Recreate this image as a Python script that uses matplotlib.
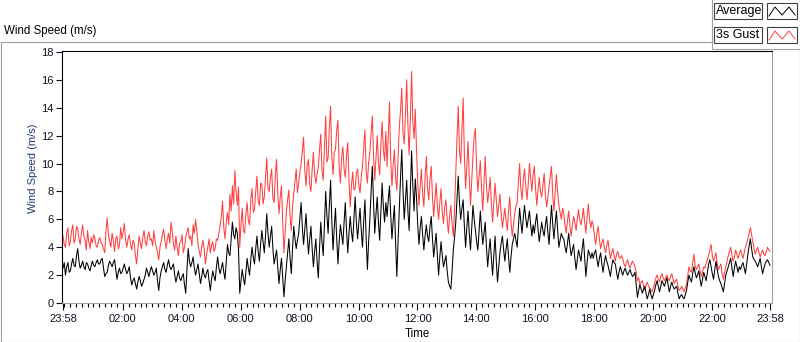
import numpy as np
import matplotlib.pyplot as plt
from matplotlib.lines import Line2D
from matplotlib.patches import Rectangle

plt.rcParams['font.family'] = ['Liberation Sans', 'DejaVu Sans']
plt.rcParams['font.size'] = 8

# 2.5-minute readings, 23:58 -> 23:58 next day (one row per hour)
gust = [
    4.8, 4.2, 4.0, 5.0, 5.4, 4.1, 4.4, 5.2, 5.6, 4.3, 4.6, 5.5, 5.3, 4.6, 4.2, 5.0, 5.6, 4.8, 4.5, 3.8, 5.2, 4.4, 3.9, 4.7,
    4.3, 4.9, 4.6, 4.1, 4.0, 4.5, 4.7, 4.3, 4.2, 3.9, 3.6, 5.2, 6.1, 4.9, 4.4, 4.0, 5.0, 4.5, 3.7, 4.6, 4.8, 3.9, 4.1, 5.4,
    4.6, 5.1, 5.7, 4.5, 4.0, 4.6, 4.9, 4.2, 3.8, 4.5, 4.3, 3.4, 2.8, 3.9, 4.8, 4.3, 3.9, 4.7, 5.2, 4.4, 4.1, 4.8, 5.1, 4.5,
    4.6, 4.1, 5.2, 4.4, 4.0, 3.6, 3.1, 4.0, 4.4, 4.9, 5.3, 4.5, 3.9, 4.6, 5.0, 4.3, 5.8, 5.1, 4.2, 3.8, 4.8, 4.0, 3.4, 4.3,
    4.4, 4.9, 3.6, 4.0, 4.7, 5.1, 5.4, 4.6, 4.8, 4.1, 5.6, 5.0, 6.0, 5.2, 4.2, 3.7, 3.3, 4.0, 4.5, 3.9, 2.8, 3.5, 4.0, 4.6,
    3.6, 4.1, 4.4, 3.7, 3.9, 4.6, 4.5, 5.0, 5.6, 6.2, 7.3, 5.4, 4.6, 5.8, 6.5, 5.6, 7.8, 6.6, 8.4, 7.1, 9.5, 8.0, 7.0, 8.3,
    4.0, 5.6, 6.8, 5.2, 5.0, 6.4, 7.2, 5.9, 5.6, 7.4, 8.2, 6.5, 6.7, 8.0, 9.1, 7.3, 7.0, 8.6, 8.5, 7.1, 7.6, 9.0, 10.4, 8.2,
    8.0, 9.0, 9.6, 7.5, 7.2, 9.2, 10.3, 7.8, 6.4, 7.6, 8.4, 5.8, 3.6, 5.0, 6.5, 7.4, 8.1, 6.2, 5.2, 6.9, 7.8, 8.7, 9.6, 7.9,
    8.6, 9.4, 10.0, 10.9, 11.9, 9.5, 8.4, 9.9, 10.3, 8.5, 8.0, 9.6, 10.8, 9.2, 8.6, 9.3, 9.7, 11.0, 12.1, 9.5, 8.8, 11.2, 13.4, 10.1,
    10.4, 12.6, 14.1, 10.5, 9.2, 10.8, 11.0, 12.4, 13.1, 9.8, 8.6, 10.4, 11.2, 9.6, 9.0, 10.6, 11.5, 8.8, 6.9, 8.4, 9.4, 8.1, 8.2, 9.3,
    9.6, 8.5, 7.9, 9.0, 9.8, 11.2, 12.4, 9.4, 8.6, 10.1, 10.8, 12.2, 13.4, 10.6, 8.8, 10.4, 12.0, 10.0, 9.2, 11.4, 13.0, 11.0, 10.2, 12.3,
    9.8, 12.0, 14.4, 10.2, 8.4, 9.9, 11.0, 9.0, 8.1, 10.5, 12.6, 13.8, 15.4, 12.2, 11.4, 13.6, 16.0, 12.8, 10.6, 13.2, 16.6, 13.0, 11.8, 13.9,
    11.0, 8.6, 7.0, 8.4, 9.6, 7.8, 6.9, 9.0, 10.5, 8.2, 7.4, 8.9, 9.8, 7.6, 6.2, 7.4, 8.6, 7.0, 6.0, 7.2, 8.2, 6.5, 5.7, 6.9,
    7.4, 6.0, 5.0, 6.3, 7.0, 5.6, 4.8, 6.8, 9.4, 11.8, 14.1, 11.0, 10.0, 12.4, 14.7, 10.6, 8.2, 9.8, 11.6, 9.0, 7.0, 8.8, 10.6, 12.0,
    12.5, 9.6, 8.0, 9.1, 10.2, 8.2, 6.6, 8.6, 10.5, 8.4, 7.2, 8.0, 9.0, 7.1, 5.8, 7.2, 8.6, 7.4, 6.2, 7.0, 7.8, 6.4, 5.4, 6.1,
    6.8, 5.9, 5.2, 6.6, 7.6, 5.8, 4.8, 5.6, 6.4, 6.9, 7.2, 8.6, 10.0, 8.2, 7.4, 8.8, 9.6, 8.4, 7.4, 8.5, 10.0, 9.0, 8.0, 9.2,
    9.8, 8.2, 7.0, 8.1, 9.0, 8.0, 7.6, 8.4, 9.3, 7.8, 6.9, 7.5, 8.4, 9.1, 9.8, 7.7, 6.6, 8.0, 9.2, 7.9, 7.0, 6.5, 6.0, 6.8,
    6.4, 5.6, 5.0, 5.9, 6.6, 5.5, 4.8, 5.6, 6.2, 5.8, 5.2, 6.0, 6.7, 6.0, 5.6, 6.1, 6.8, 5.8, 5.0, 6.2, 7.1, 6.0, 5.4, 5.9,
    5.6, 4.8, 4.2, 5.0, 5.5, 4.6, 3.9, 4.3, 4.6, 4.0, 3.6, 4.1, 4.5, 3.8, 3.2, 3.6, 3.9, 3.4, 3.0, 3.5, 3.7, 3.3, 3.2, 3.4,
    3.2, 2.8, 2.6, 2.9, 3.1, 2.7, 2.5, 2.8, 3.0, 2.8, 2.6, 2.2, 1.6, 1.8, 1.3, 1.5, 1.6, 1.2, 0.9, 1.3, 1.5, 1.2, 1.1, 0.9,
    0.8, 1.1, 1.4, 1.8, 2.0, 1.7, 1.5, 1.9, 2.1, 1.8, 1.6, 1.8, 2.0, 1.7, 1.6, 1.9, 2.1, 1.7, 1.4, 1.6, 1.7, 1.2, 0.9, 1.0,
    1.2, 1.0, 0.8, 1.1, 1.3, 2.0, 2.6, 2.3, 2.2, 2.9, 3.5, 2.7, 2.4, 2.6, 2.8, 2.3, 1.9, 2.2, 2.6, 2.5, 2.9, 3.1, 3.4, 3.8,
    4.2, 3.4, 3.0, 3.3, 3.6, 2.8, 2.4, 2.6, 2.8, 2.1, 1.7, 2.2, 2.6, 3.0, 3.4, 3.7, 4.0, 3.4, 3.0, 3.3, 3.8, 3.5, 3.2, 3.5,
    3.8, 3.5, 3.2, 3.6, 4.0, 4.3, 4.6, 5.0, 5.4, 4.9, 4.4, 3.9, 3.5, 3.8, 4.0, 3.6, 3.3, 3.6, 3.8, 3.5, 3.4, 3.7, 4.0, 3.8, 3.7,
]
average = [
    2.5, 2.9, 2.0, 2.6, 2.9, 2.2, 2.3, 2.8, 3.2, 2.7, 2.6, 3.4, 3.9, 3.0, 2.5, 2.7, 3.0, 2.6, 2.4, 2.9, 2.8, 2.5, 2.3, 2.7,
    3.0, 2.7, 2.6, 2.9, 3.1, 2.8, 2.8, 3.1, 3.2, 2.5, 1.9, 2.1, 2.2, 2.7, 3.0, 2.8, 2.6, 2.9, 3.1, 2.4, 1.7, 2.2, 2.5, 2.1,
    2.2, 2.5, 2.8, 2.4, 2.1, 2.3, 2.6, 1.8, 1.3, 1.6, 1.8, 1.4, 1.0, 1.5, 1.9, 1.6, 1.2, 1.4, 1.7, 2.0, 2.5, 2.2, 1.9, 2.3,
    2.6, 2.3, 2.0, 2.2, 2.5, 1.6, 0.9, 1.8, 2.3, 2.6, 2.9, 2.4, 2.2, 2.7, 3.1, 2.6, 2.4, 2.6, 2.8, 2.0, 1.5, 1.9, 2.3, 1.8,
    1.6, 1.9, 2.1, 1.3, 0.7, 2.4, 3.9, 3.0, 2.6, 2.9, 3.3, 2.5, 2.0, 2.4, 2.8, 2.1, 1.4, 1.9, 2.5, 2.0, 1.8, 2.2, 2.4, 1.6,
    0.9, 1.7, 2.3, 1.9, 1.6, 2.6, 3.3, 2.5, 2.1, 2.5, 2.9, 2.2, 1.7, 3.0, 4.2, 3.6, 3.4, 4.6, 5.8, 4.9, 4.6, 5.4, 5.0, 3.8,
    0.7, 1.6, 2.4, 1.8, 1.3, 2.2, 3.2, 2.5, 2.0, 3.1, 4.0, 3.3, 2.8, 3.9, 4.8, 3.7, 3.0, 4.2, 5.2, 4.4, 3.6, 4.8, 6.4, 5.0,
    4.0, 4.8, 5.5, 3.9, 2.8, 3.3, 3.8, 2.5, 1.4, 2.4, 3.2, 1.8, 0.45, 1.6, 2.6, 3.6, 4.6, 3.2, 2.1, 3.9, 5.5, 4.6, 3.9, 4.5,
    5.0, 6.1, 7.2, 5.4, 4.2, 5.3, 6.4, 4.8, 3.5, 4.6, 5.5, 3.9, 2.6, 3.7, 4.6, 3.0, 1.8, 3.9, 5.8, 4.4, 3.4, 5.6, 8.0, 6.3,
    5.0, 7.0, 8.8, 5.9, 3.8, 5.4, 6.8, 4.6, 2.8, 4.4, 5.6, 4.9, 4.2, 5.8, 7.2, 5.2, 3.6, 5.0, 6.2, 5.1, 4.4, 6.0, 7.6, 5.8,
    4.6, 5.8, 6.8, 5.2, 4.0, 5.9, 7.4, 4.6, 2.4, 4.4, 6.0, 8.0, 9.8, 7.2, 5.0, 6.4, 7.6, 5.8, 4.5, 6.6, 8.6, 6.9, 5.8, 7.2,
    6.2, 7.4, 8.4, 6.3, 4.6, 5.9, 7.0, 4.2, 1.9, 4.5, 6.8, 9.0, 11.0, 8.1, 6.0, 7.4, 8.8, 6.6, 5.2, 8.0, 10.9, 8.4, 6.6, 8.9,
    7.6, 5.6, 4.2, 5.4, 6.2, 4.9, 3.8, 4.8, 5.6, 4.8, 4.4, 5.5, 6.2, 4.6, 3.3, 4.2, 5.0, 3.4, 2.0, 3.3, 4.4, 3.4, 2.6, 3.0,
    3.4, 2.3, 1.5, 1.2, 1.0, 2.3, 3.8, 4.7, 5.8, 7.5, 9.1, 7.2, 6.0, 6.8, 7.4, 5.5, 4.0, 5.4, 6.6, 5.0, 3.8, 5.4, 7.0, 6.0,
    5.2, 4.4, 3.8, 5.2, 6.6, 5.3, 4.2, 5.0, 5.8, 4.0, 2.6, 3.7, 4.6, 3.2, 2.0, 3.4, 4.8, 3.0, 1.5, 2.6, 3.6, 4.3, 4.8, 3.8,
    3.0, 3.9, 4.6, 3.3, 2.2, 3.3, 4.2, 4.6, 5.0, 4.5, 4.0, 5.4, 6.8, 5.8, 5.0, 6.1, 7.0, 6.1, 5.4, 6.0, 6.6, 5.6, 4.8, 5.6,
    5.0, 5.8, 6.4, 5.3, 4.4, 5.1, 5.8, 5.2, 4.8, 5.6, 6.2, 5.1, 4.2, 5.7, 7.0, 5.6, 4.6, 5.7, 6.6, 5.2, 4.0, 4.5, 5.0, 4.7,
    4.6, 4.0, 3.6, 4.3, 5.0, 4.1, 3.4, 3.8, 4.2, 3.2, 2.4, 3.1, 3.8, 3.4, 3.0, 3.9, 4.6, 3.2, 1.9, 2.9, 3.8, 3.5, 3.2, 3.6,
    3.2, 3.6, 3.8, 3.1, 2.6, 3.2, 3.6, 2.8, 2.2, 2.9, 3.4, 3.0, 2.7, 2.3, 1.9, 2.6, 3.1, 2.9, 2.8, 2.2, 1.7, 2.2, 2.6, 2.3,
    2.0, 2.3, 2.5, 2.2, 2.0, 2.2, 2.4, 2.1, 1.9, 2.0, 2.2, 1.3, 0.4, 0.9, 1.3, 1.0, 0.7, 1.0, 1.2, 0.7, 0.3, 0.6, 1.0, 0.6,
    0.3, 0.6, 0.9, 1.3, 1.6, 1.2, 0.8, 1.2, 1.6, 1.4, 1.2, 1.5, 1.8, 1.3, 0.8, 1.2, 1.5, 1.2, 1.0, 1.1, 1.2, 0.7, 0.3, 0.5,
    0.6, 0.4, 0.3, 0.6, 0.9, 1.5, 2.0, 1.7, 1.5, 2.1, 2.6, 2.2, 1.8, 2.0, 2.3, 1.7, 1.2, 1.7, 2.2, 1.9, 1.6, 2.2, 2.8, 3.1,
    2.6, 2.1, 1.7, 2.4, 3.0, 2.4, 1.9, 1.6, 1.4, 1.1, 0.8, 1.4, 2.0, 2.3, 2.6, 2.9, 3.2, 2.5, 1.9, 2.5, 3.0, 2.6, 2.2, 2.6,
    2.4, 2.7, 2.9, 2.5, 2.1, 2.8, 3.5, 4.1, 4.6, 3.9, 3.3, 3.1, 3.0, 2.8, 2.6, 2.9, 3.2, 2.6, 2.1, 2.5, 2.8, 3.0, 3.1, 2.9, 2.7,
]
hours = np.linspace(0, 24, len(average))

tick_labels = ['23:58', '02:00', '04:00', '06:00', '08:00', '10:00', '12:00',
               '14:00', '16:00', '18:00', '20:00', '22:00', '23:58']
tick_pos = [0] + [h + 2 / 60 for h in range(2, 24, 2)] + [24]

W, H = 800, 342
def fx(px):
    return px / W
def fy(py):
    return 1 - py / H

fig = plt.figure(figsize=(W / 100, H / 100), dpi=100)
fig.patch.set_facecolor('white')

ax = fig.add_axes([fx(62), fy(303), (772 - 62) / W, (303 - 51) / H])
ax.plot(hours, gust, color='#ff4040', lw=0.75)
ax.plot(hours, average, color='black', lw=0.75)

ax.set_xlim(-0.034, 24.068)
ax.set_ylim(0, 18.07)
ax.set_yticks(range(0, 19, 2))
ax.set_xticks(tick_pos)
ax.set_xticklabels(tick_labels)
ax.set_xticks(np.arange(2 / 60, 24, 0.2), minor=True)

for side in ['left', 'top']:
    ax.spines[side].set_color('black')
    ax.spines[side].set_linewidth(0.8)
for side in ['right', 'bottom']:
    ax.spines[side].set_color('#a0a0a0')
    ax.spines[side].set_linewidth(0.8)

ax.tick_params(axis='y', direction='out', length=4, width=0.8, pad=2, labelsize=8, colors='#101020')
ax.tick_params(axis='x', which='major', direction='out', length=5, width=0.8, pad=3, labelsize=8, colors='#101020')
ax.tick_params(axis='x', which='minor', direction='out', length=3, width=0.8)

# labels
fig.text(fx(4), fy(31), 'Wind Speed (m/s)', ha='left', va='center', fontsize=8.3)
fig.text(fx(33), fy(168), 'Wind Speed (m/s)', rotation=90, ha='center', va='center',
         fontsize=8, color='#1f3a70')
fig.text(fx(417), fy(334), 'Time', ha='center', va='center', fontsize=8.3)

# panel frame
grey = '#a0a0a0'
for xs, ys in [([0.5, 712], [42, 42]), ([0.5, 0.5], [42, 341.5]),
               ([0, 800], [341.5, 341.5]), ([799.5, 799.5], [49, 341.5])]:
    fig.add_artist(Line2D([fx(v) for v in xs], [fy(v) for v in ys],
                          transform=fig.transFigure, color=grey, lw=0.8))

# legend panel
fig.add_artist(Rectangle((fx(712), fy(49)), 87.5 / W, 50 / H, transform=fig.transFigure,
                         facecolor='white', edgecolor=grey, lw=0.8))
legend_items = [('Average', 'black', 3), ('3s Gust', '#ff4040', 27)]
for name, col, top in legend_items:
    fig.add_artist(Rectangle((fx(713.5), fy(top + 15.5)), 48.5 / W, 15.5 / H,
                             transform=fig.transFigure, facecolor='white',
                             edgecolor='#404040', lw=0.8))
    fig.text(fx(715.5), fy(top + 8), name, ha='left', va='center', fontsize=9)
    fig.add_artist(Rectangle((fx(766.5), fy(top + 15.5)), 30.5 / W, 15.5 / H,
                             transform=fig.transFigure, facecolor='white',
                             edgecolor='#404040', lw=0.8))
    zx = [769, 775, 782, 789, 795]
    zy = [top + 13, top + 4, top + 12, top + 4, top + 12]
    fig.add_artist(Line2D([fx(v) for v in zx], [fy(v) for v in zy],
                          transform=fig.transFigure, color=col, lw=0.7))

fig.savefig('out.png', dpi=100)
